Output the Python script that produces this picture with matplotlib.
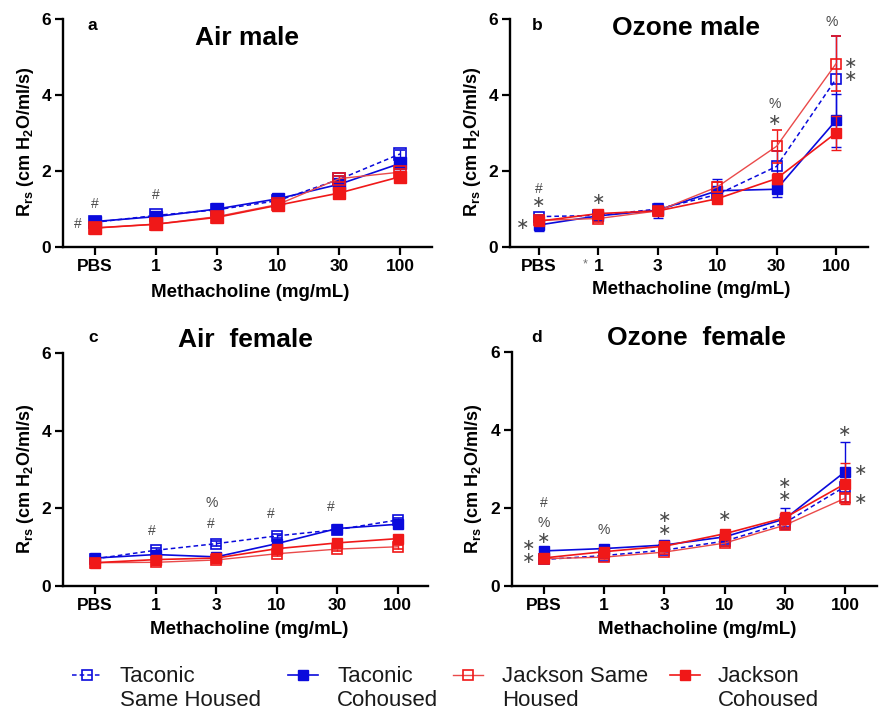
import matplotlib
matplotlib.use("Agg")
import matplotlib.pyplot as plt
from matplotlib.lines import Line2D
import matplotlib.transforms as mtransforms

plt.rcParams['font.family'] = ['Liberation Sans', 'DejaVu Sans']
plt.rcParams['mathtext.fontset'] = 'custom'
plt.rcParams['mathtext.rm'] = 'Liberation Sans'
plt.rcParams['mathtext.bf'] = 'Liberation Sans:bold'
plt.rcParams['mathtext.it'] = 'Liberation Sans:italic'

# ---------------- data ----------------
doses = ['PBS', '1', '3', '10', '30', '100']
series_names = ['Taconic\nSame Housed', 'Taconic\nCohoused',
                'Jackson Same\nHoused', 'Jackson\nCohoused']

# (a) Air male
a_tac_same = [0.65, 0.83, 0.98, 1.22, 1.78, 2.45]
a_tac_co = [0.67, 0.80, 1.00, 1.27, 1.65, 2.20]
a_jax_same = [0.50, 0.60, 0.80, 1.12, 1.80, 1.97]
a_jax_co = [0.50, 0.60, 0.78, 1.10, 1.42, 1.85]
a_tac_same_err = [0.04, 0.05, 0.05, 0.06, 0.08, 0.10]
a_tac_co_err = [0.04, 0.05, 0.05, 0.06, 0.08, 0.10]
a_jax_same_err = [0.03, 0.04, 0.05, 0.06, 0.08, 0.08]
a_jax_co_err = [0.03, 0.04, 0.05, 0.06, 0.07, 0.08]

# (b) Ozone male
b_tac_same = [0.80, 0.83, 1.00, 1.38, 2.12, 4.42]
b_tac_co = [0.58, 0.82, 0.97, 1.48, 1.52, 3.33]
b_jax_same = [0.70, 0.75, 0.95, 1.58, 2.65, 4.82]
b_jax_co = [0.68, 0.88, 0.95, 1.27, 1.80, 3.00]
b_tac_same_err = [0.05, 0.06, 0.10, 0.15, 0.40, 1.12]
b_tac_co_err = [0.17, 0.08, 0.20, 0.32, 0.20, 0.70]
b_jax_same_err = [0.08, 0.08, 0.10, 0.12, 0.43, 0.72]
b_jax_co_err = [0.08, 0.08, 0.10, 0.10, 0.15, 0.45]

# (c) Air female
c_tac_same = [0.70, 0.92, 1.09, 1.29, 1.45, 1.70]
c_tac_co = [0.72, 0.81, 0.75, 1.09, 1.48, 1.59]
c_jax_same = [0.60, 0.61, 0.67, 0.83, 0.95, 1.01]
c_jax_co = [0.60, 0.68, 0.72, 0.96, 1.11, 1.22]
c_tac_same_err = [0.04, 0.05, 0.06, 0.06, 0.06, 0.06]
c_tac_co_err = [0.04, 0.05, 0.05, 0.08, 0.08, 0.06]
c_jax_same_err = [0.03, 0.04, 0.04, 0.05, 0.05, 0.05]
c_jax_co_err = [0.03, 0.04, 0.04, 0.05, 0.06, 0.06]

# (d) Ozone female
d_tac_same = [0.68, 0.78, 0.92, 1.15, 1.62, 2.55]
d_tac_co = [0.90, 0.96, 1.05, 1.26, 1.72, 2.93]
d_jax_same = [0.70, 0.74, 0.87, 1.10, 1.56, 2.25]
d_jax_co = [0.72, 0.88, 1.02, 1.34, 1.75, 2.62]
d_tac_same_err = [0.05, 0.05, 0.06, 0.08, 0.10, 0.40]
d_tac_co_err = [0.06, 0.05, 0.06, 0.10, 0.27, 0.77]
d_jax_same_err = [0.05, 0.05, 0.06, 0.07, 0.08, 0.10]
d_jax_co_err = [0.05, 0.05, 0.06, 0.08, 0.15, 0.53]

# significance marks: (x position on the dose axis, y centre, symbol(s));
# '**' stands for two asterisks stacked vertically
a_marks = [(0, 1.13, '#'), (-0.28, 0.60, '#'), (1, 1.37, '#')]
b_marks = [(-0.27, 0.58, '*'), (0, 1.53, '#'), (0, 1.18, '*'), (1, 1.26, '*'),
           (3.97, 3.76, '%'), (3.97, 3.32, '*'), (4.93, 5.92, '%'),
           (5.25, 4.65, '**')]
c_marks = [(0.93, 1.42, '#'), (1.92, 1.60, '#'), (1.93, 2.13, '%'),
           (2.91, 1.85, '#'), (3.90, 2.03, '#')]
d_marks = [(-0.25, 0.88, '**'), (0, 1.23, '*'), (0, 1.62, '%'),
           (0, 2.13, '#'), (1, 1.44, '%'), (2, 1.58, '**'),
           (3, 1.77, '*'), (4, 2.46, '**'), (5, 3.97, '*'),
           (5.26, 2.95, '*'), (5.26, 2.23, '*')]

# ---------------- styling ----------------
BLUE = '#0A0ADC'
RED = '#F01818'
RED_LIGHT = '#EA4A4A'
MARK_COL = '#4A4A4A'
STAR = '\u2217'

styles = [
    # tac_same, tac_co, jax_same, jax_co
    dict(color=BLUE, ls=(0, (3, 2)), lw=1.1, mfc='none', mec=BLUE, mew=1.2),
    dict(color=BLUE, ls='-', lw=1.2, mfc=BLUE, mec=BLUE, mew=1.0),
    dict(color=RED_LIGHT, ls='-', lw=1.0, mfc='none', mec=RED, mew=1.2),
    dict(color=RED, ls='-', lw=1.2, mfc=RED, mec=RED, mew=1.0),
]

W, H = 880, 712
fig = plt.figure(figsize=(W / 100, H / 100), dpi=100)


def box(x0, x1, ytop, ybot):
    return [x0 / W, 1 - ybot / H, (x1 - x0) / W, (ybot - ytop) / H]


panels = [
    dict(rect=box(63, 432, 19, 247), letter='a', lpos=(92, 25), title='Air male',
         tpos=(247, 38), xlab=(250, 293),
         data=[a_tac_same, a_tac_co, a_jax_same, a_jax_co],
         err=[a_tac_same_err, a_tac_co_err, a_jax_same_err, a_jax_co_err],
         marks=a_marks, ms=8.5, xlim=(-0.52, 5.52)),
    dict(rect=box(510, 868, 19, 247), letter='b', lpos=(537, 25), title='Ozone male',
         tpos=(686, 28), xlab=(691, 290),
         data=[b_tac_same, b_tac_co, b_jax_same, b_jax_co],
         err=[b_tac_same_err, b_tac_co_err, b_jax_same_err, b_jax_co_err],
         marks=b_marks, ms=6.5, xlim=(-0.49, 5.54)),
    dict(rect=box(63, 428, 353, 586), letter='c', lpos=(93, 337), title='Air  female',
         tpos=(245, 340), xlab=(249, 629),
         data=[c_tac_same, c_tac_co, c_jax_same, c_jax_co],
         err=[c_tac_same_err, c_tac_co_err, c_jax_same_err, c_jax_co_err],
         marks=c_marks, ms=7.5, xlim=(-0.53, 5.5)),
    dict(rect=box(512, 877, 352, 586), letter='d', lpos=(537, 337), title='Ozone  female',
         tpos=(696, 338), xlab=(697, 629),
         data=[d_tac_same, d_tac_co, d_jax_same, d_jax_co],
         err=[d_tac_same_err, d_tac_co_err, d_jax_same_err, d_jax_co_err],
         marks=d_marks, ms=7.0, xlim=(-0.53, 5.53)),
]

xs = list(range(len(doses)))
draw_order = [2, 3, 0, 1]

for p in panels:
    ax = fig.add_axes(p['rect'])
    for i in draw_order:
        st = styles[i]
        ax.errorbar(xs, p['data'][i], yerr=p['err'][i], color=st['color'],
                    ls=st['ls'], lw=st['lw'], marker='s', ms=p['ms'],
                    mfc=st['mfc'], mec=st['mec'], mew=st['mew'],
                    ecolor=st['mec'], elinewidth=1.0, capsize=3.5, capthick=1.0,
                    clip_on=False, zorder=3 + i)
    ax.set_xlim(*p['xlim'])
    ax.set_ylim(0, 6)
    ax.set_yticks([0, 2, 4, 6])
    ax.set_xticks(xs)
    ax.set_xticklabels(doses, fontweight='bold', fontsize=12.5)
    ax.set_yticklabels(['0', '2', '4', '6'], fontweight='bold', fontsize=12.5)
    for s in ('top', 'right'):
        ax.spines[s].set_visible(False)
    for s in ('left', 'bottom'):
        ax.spines[s].set_linewidth(1.7)
    ax.tick_params(direction='out', length=5.5, width=1.6, pad=3, colors='black')
    ax.patch.set_alpha(0)

    for x, y, s in p['marks']:
        if s == '*':
            ax.text(x, y, STAR, fontsize=11.5, color=MARK_COL, ha='center',
                    va='center', family=['DejaVu Sans'], clip_on=False)
        elif s == '**':
            ax.text(x, y, STAR + '\n' + STAR, fontsize=11.5, color=MARK_COL,
                    ha='center', va='center', family=['DejaVu Sans'],
                    linespacing=0.82, clip_on=False)
        else:
            ax.text(x, y, s, fontsize=10, color=MARK_COL, ha='center',
                    va='center', clip_on=False)

    fig.text(p['lpos'][0] / W, 1 - p['lpos'][1] / H, p['letter'], fontsize=12.5,
             fontweight='bold', ha='center', va='center')
    fig.text(p['tpos'][0] / W, 1 - p['tpos'][1] / H, p['title'], fontsize=19,
             fontweight='bold', ha='center', va='center')
    fig.text(p['xlab'][0] / W, 1 - p['xlab'][1] / H, 'Methacholine (mg/mL)',
             fontsize=13.5, fontweight='bold', ha='center', va='center')
    ylab_x = p['rect'][0] - 38 / W
    ylab_y = p['rect'][1] + p['rect'][3] * 0.46
    fig.text(ylab_x, ylab_y,
             r'$\mathbf{R}_\mathbf{rs}$ (cm H$_\mathbf{2}$O/ml/s)',
             rotation=90, fontsize=13, fontweight='bold', ha='center', va='center')

    if p['letter'] == 'b':
        trans = mtransforms.blended_transform_factory(ax.transData, ax.transAxes)
        ax.text(0.78, -0.075, '*', transform=trans, fontsize=9, color='#707070',
                ha='center', va='center', clip_on=False)

# ---------------- legend ----------------
leg = fig.add_axes([0, 0, 1, 1], zorder=10)
leg.set_xlim(0, W)
leg.set_ylim(H, 0)
leg.axis('off')
leg_x = [(72, 102, 120), (288, 318, 337), (453, 483, 502), (670, 700, 718)]
for i, (x0, x1, tx) in enumerate(leg_x):
    st = styles[i]
    leg.add_line(Line2D([x0, x1], [675, 675], color=st['color'], ls=st['ls'],
                        lw=st['lw']))
    leg.add_line(Line2D([(x0 + x1) / 2], [675], marker='s', ms=7, mfc=st['mfc'],
                        mec=st['mec'], mew=st['mew'], ls='none'))
    first, second = series_names[i].split('\n')
    leg.text(tx, 676, first, fontsize=16, color='#1a1a1a', ha='left', va='center')
    leg.text(tx, 701, second, fontsize=16, color='#1a1a1a', ha='left', va='center')

fig.savefig('out.png', dpi=100)
